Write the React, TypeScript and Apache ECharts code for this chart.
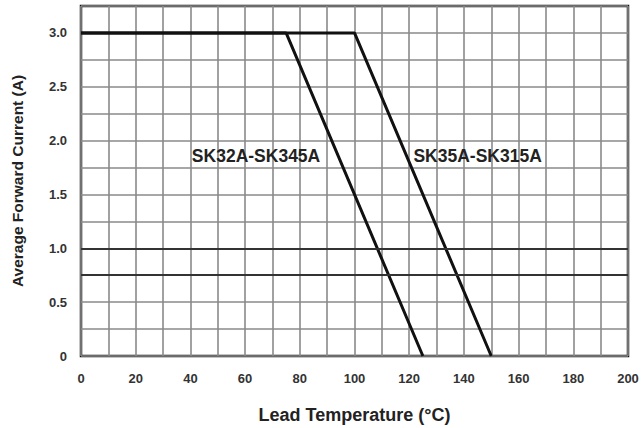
import React, { useEffect, useRef } from "react";
import * as echarts from "echarts";

const seriesNames = ["SK32A-SK345A", "SK35A-SK315A"];
const curveA: [number, number][] = [[0, 3.0], [75, 3.0], [125, 0]];
const curveB: [number, number][] = [[0, 3.0], [100, 3.0], [150, 0]];
const labelCoords: [number, number][] = [[64, 1.86], [145, 1.86]];
const heavyLines = [1.0, 0.75];
const xTicks = [0, 20, 40, 60, 80, 100, 120, 140, 160, 180, 200];
const yTicks = [0, 0.5, 1.0, 1.5, 2.0, 2.5, 3.0];

export default function App() {
  const ref = useRef<HTMLDivElement>(null);
  useEffect(() => {
    const chart = echarts.init(ref.current!, null, { renderer: "svg" });
    const font = "'Liberation Sans', Arial, sans-serif";
    const labelStyle = { show: true, position: "inside", fontFamily: font, fontWeight: "bold", fontSize: 17.5, color: "#222" };
    chart.setOption({
      animation: false,
      backgroundColor: "#fff",
      grid: {
        left: 81, right: 13, top: 6, bottom: 72,
        show: true, borderColor: "#111", borderWidth: 2.5,
        containLabel: false, outerBoundsMode: "none",
      },
      xAxis: {
        type: "value", min: 0, max: 200, interval: 10,
        name: "Lead Temperature (\u00B0C)", nameLocation: "middle", nameGap: 50,
        nameTextStyle: { fontFamily: font, fontWeight: "bold", fontSize: 18, color: "#222" },
        axisLine: { show: false }, axisTick: { show: false },
        axisLabel: {
          margin: 16, fontFamily: font, fontWeight: "bold", fontSize: 13, color: "#333",
          formatter: (v: number) => (xTicks.includes(v) ? String(v) : ""),
        },
        splitLine: { show: true, lineStyle: { color: "#8a8a8a", width: 1.6 } },
      },
      yAxis: {
        type: "value", min: 0, max: 3.25, interval: 0.25,
        name: "Average Forward Current (A)", nameLocation: "middle", nameGap: 56,
        nameTextStyle: { fontFamily: font, fontWeight: "bold", fontSize: 15.5, color: "#222" },
        axisLine: { show: false }, axisTick: { show: false },
        axisLabel: {
          margin: 14, fontFamily: font, fontWeight: "bold", fontSize: 13, color: "#333",
          formatter: (v: number) => {
            const hit = yTicks.find((t) => Math.abs(t - v) < 1e-9);
            if (hit === undefined) return "";
            return hit === 0 ? "0" : hit.toFixed(1);
          },
        },
        splitLine: { show: true, lineStyle: { color: "#8a8a8a", width: 1.6 } },
      },
      series: [
        {
          name: seriesNames[0], type: "line", data: curveA, symbol: "none",
          lineStyle: { color: "#111", width: 3 },
          markLine: {
            silent: true, symbol: "none", label: { show: false },
            lineStyle: { color: "#333", width: 2, type: "solid" },
            data: heavyLines.map((y) => ({ yAxis: y })),
          },
          markPoint: {
            symbol: "rect", symbolSize: 0,
            label: { ...labelStyle, formatter: seriesNames[0] },
            data: [{ coord: labelCoords[0] }],
          },
        },
        {
          name: seriesNames[1], type: "line", data: curveB, symbol: "none",
          lineStyle: { color: "#111", width: 3 },
          markPoint: {
            symbol: "rect", symbolSize: 0,
            label: { ...labelStyle, formatter: seriesNames[1] },
            data: [{ coord: labelCoords[1] }],
          },
        },
      ],
    });
    return () => chart.dispose();
  }, []);
  return <div ref={ref} style={{ width: 641, height: 428, position: "absolute", left: 0, top: 0 }} />;
}
